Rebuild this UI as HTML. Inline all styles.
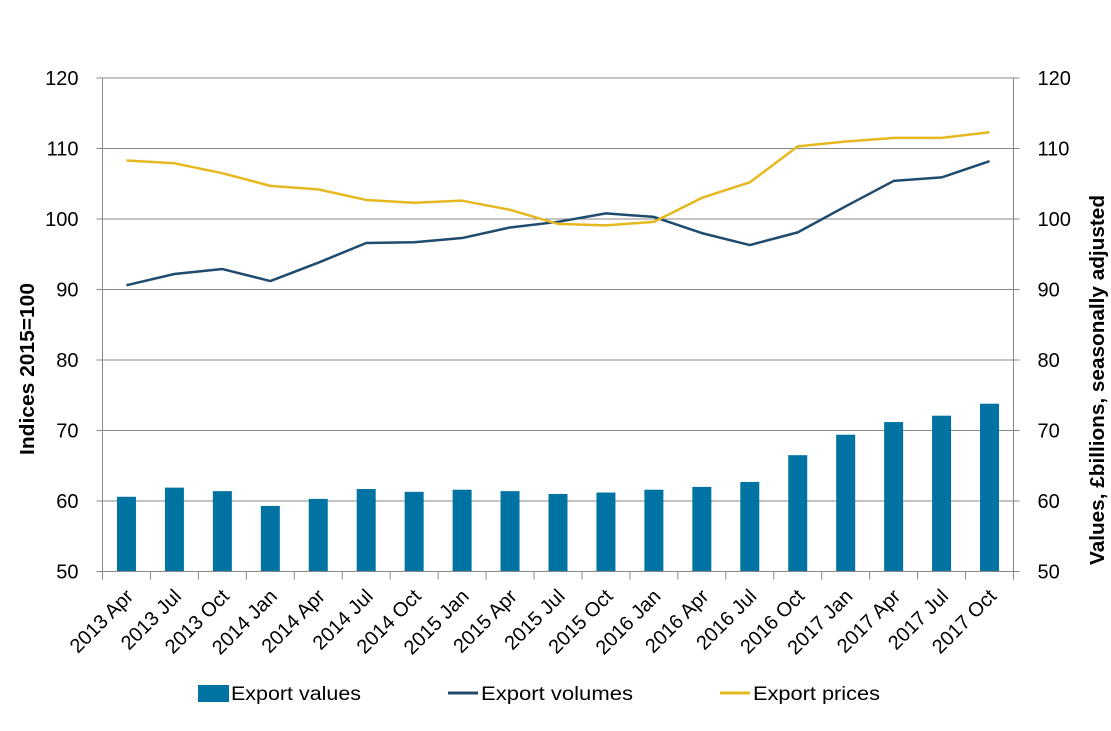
<!DOCTYPE html>
<html><head><meta charset="utf-8">
<style>
body{margin:0;background:#fff;}
svg text{font-family:"Liberation Sans",sans-serif;fill:#000;}
</style></head>
<body>
<svg id="chart" width="1111" height="726">
<g id="grid"></g><g id="bars"></g><g id="lines"></g><g id="axes"></g><g id="labels"></g>
<text x="0" y="0" transform="translate(34,369) rotate(-90)" text-anchor="middle" font-size="20" font-weight="bold" textLength="172" lengthAdjust="spacingAndGlyphs">Indices 2015=100</text>
<text x="0" y="0" transform="translate(1104,380) rotate(-90)" text-anchor="middle" font-size="20" font-weight="bold" textLength="370" lengthAdjust="spacingAndGlyphs">Values, £billions, seasonally adjusted</text>
<g>
<rect x="198" y="685" width="31" height="17" fill="#0073a3"/>
<text x="231" y="700" font-size="19" textLength="130" lengthAdjust="spacingAndGlyphs">Export values</text>
<line x1="448" y1="693" x2="478" y2="693" stroke="#1f4b6e" stroke-width="3"/>
<text x="481" y="700" font-size="19" textLength="152" lengthAdjust="spacingAndGlyphs">Export volumes</text>
<line x1="720" y1="693" x2="750" y2="693" stroke="#e6b820" stroke-width="3"/>
<text x="753" y="700" font-size="19" textLength="127" lengthAdjust="spacingAndGlyphs">Export prices</text>
</g>
</svg>
<script>
const categories=["2013 Apr","2013 Jul","2013 Oct","2014 Jan","2014 Apr","2014 Jul","2014 Oct","2015 Jan","2015 Apr","2015 Jul","2015 Oct","2016 Jan","2016 Apr","2016 Jul","2016 Oct","2017 Jan","2017 Apr","2017 Jul","2017 Oct"];
const exportValues=[60.6,61.9,61.4,59.3,60.3,61.7,61.3,61.6,61.4,61.0,61.2,61.6,62.0,62.7,66.5,69.4,71.2,72.1,73.8];
const exportVolumes=[90.6,92.2,92.9,91.2,93.8,96.6,96.7,97.3,98.8,99.6,100.8,100.3,98.0,96.3,98.1,101.8,105.4,105.9,108.2];
const exportPrices=[108.3,107.9,106.5,104.7,104.2,102.7,102.3,102.6,101.3,99.3,99.1,99.6,103.0,105.2,110.3,111.0,111.5,111.5,112.3];
const yTicks=[50,60,70,80,90,100,110,120];

const NS="http://www.w3.org/2000/svg";
const L=102.5,R=1013.5,T=78,B=571.5,ymin=50,ymax=120;
const step=(R-L)/categories.length;
function xC(i){return L+step*(i+0.5);}
function y(v){return B-(v-ymin)/(ymax-ymin)*(B-T);}
function mk(tag,attrs,parent){const e=document.createElementNS(NS,tag);for(const k in attrs)e.setAttribute(k,attrs[k]);document.getElementById(parent).appendChild(e);return e;}

yTicks.forEach(v=>{
  if(v>ymin){const g=mk('line',{x1:L,x2:R,y1:y(v),y2:y(v),stroke:'#888','stroke-width':1},'grid');
  
  }
  const t1=mk('text',{x:L-24,y:y(v)+7,'text-anchor':'end','font-size':20},'labels');t1.textContent=v;
  
  
  const t2=mk('text',{x:R+24,y:y(v)+7,'text-anchor':'start','font-size':20},'labels');t2.textContent=v;
  
  
  const a=mk('line',{x1:L-6,x2:L,y1:y(v),y2:y(v),stroke:'#888'},'axes');
  
  
  const b=mk('line',{x1:R,x2:R+6,y1:y(v),y2:y(v),stroke:'#888'},'axes');
  
  
});
let ax=mk('line',{x1:L,x2:L,y1:T,y2:B,stroke:'#888'},'axes');


ax=mk('line',{x1:R,x2:R,y1:T,y2:B,stroke:'#888'},'axes');


ax=mk('line',{x1:L,x2:R,y1:B,y2:B,stroke:'#888'},'axes');



for(let i=0;i<=categories.length;i++){
  const tk=mk('line',{x1:L+step*i,x2:L+step*i,y1:B,y2:B+8,stroke:'#888'},'axes');
  
  
}
categories.forEach((c,i)=>{
  const bw=19;
  const r=mk('rect',{x:xC(i)-bw/2,y:y(exportValues[i]),width:bw,height:B-y(exportValues[i]),fill:'#0073a3'},'bars');
  
  
  const t=mk('text',{x:0,y:0,'text-anchor':'end','font-size':20,transform:`translate(${xC(i)+8},${B+26}) rotate(-45)`},'labels');
  t.textContent=c;
  
  
});
function line(data,color,name){
  const p=mk('polyline',{points:data.map((v,i)=>xC(i)+','+y(v)).join(' '),fill:'none',stroke:color,'stroke-width':2.5,'stroke-linejoin':'round'},'lines');
  
  
}
line(exportVolumes,'#1f4b6e','export-volumes-line');
line(exportPrices,'#e6b820','export-prices-line');
</script>
</body></html>
